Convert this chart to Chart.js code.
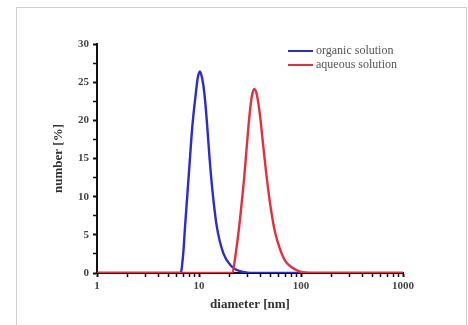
<!DOCTYPE html>
<html>
<head>
<meta charset="utf-8">
<script src="https://cdn.jsdelivr.net/npm/chart.js@4"></script>
<style>
    html, body { margin: 0; padding: 0; background: #fff; overflow: hidden; }
    #frame { position: absolute; left: 16px; top: 7px; width: 449px; height: 340px; border: 1px solid #cfcfcf; }
    #wrap { position: absolute; left: 0; top: 0; width: 468px; height: 325px; }
</style>
</head>
<body>
<div id="frame"></div>
<div id="wrap"><canvas id="chart1" width="468" height="325"></canvas></div>
<script>
// diameter in nm, number in %
const organicDiameter = [1, 6.6, 7.0, 7.3, 7.7, 8.1, 8.6, 9.3, 9.7, 10.2, 10.7, 11.3, 12.0, 12.7, 13.5, 14.9, 17.3, 20.9, 25, 30, 40, 1000];
const organicNumber   = [0, 0,   2.5, 6.1, 10.4, 14.5, 19.2, 23.5, 25.5, 26.4, 25.6, 23.5, 19.5, 15.0, 11.0, 6.2, 2.6, 0.85, 0.25, 0.05, 0, 0];

const aqueousDiameter = [1, 21, 23.4, 25.6, 27.6, 29.4, 31.4, 33, 34.8, 37, 39.4, 42.7, 46.4, 51.5, 56, 62, 70, 81, 95, 110, 130, 1000];
const aqueousNumber   = [0, 0, 3.45, 7.8, 12.2, 16.6, 20.9, 23.2, 24.1, 23.3, 20.9, 16.6, 12.2, 7.8, 5.2, 3.2, 1.6, 0.75, 0.25, 0.07, 0, 0];

const xTicks = [1, 2, 3, 4, 5, 6, 7, 8, 9, 10, 20, 30, 40, 50, 60, 70, 80, 90, 100, 200, 300, 400, 500, 600, 700, 800, 900, 1000];
const xLabels = [1, 10, 100, 1000];
const seriesNames = ['organic solution', 'aqueous solution'];

function toPoints(xs, ys) {
    return xs.map((x, i) => ({ x: x, y: ys[i] }));
}

// legend drawn inside the plot, top right
const innerLegend = {
    id: 'innerLegend',
    afterDraw(chart) {
        const ctx = chart.ctx;
        ctx.save();
        ctx.font = '12px "Liberation Serif"';
        ctx.textBaseline = 'middle';
        chart.data.datasets.forEach((ds, i) => {
            const y = 51 + i * 14;
            ctx.strokeStyle = ds.borderColor;
            ctx.lineWidth = 2;
            ctx.beginPath();
            ctx.moveTo(288, y);
            ctx.lineTo(313, y);
            ctx.stroke();
            ctx.fillStyle = '#555';
            ctx.fillText(ds.label, 316, y);
        });
        ctx.restore();
    }
};

const ctx1 = document.getElementById('chart1').getContext('2d');
const chart1 = new Chart(ctx1, {
    type: 'line',
    data: {
        datasets: [{
            label: seriesNames[0],
            data: toPoints(organicDiameter, organicNumber),
            borderColor: '#2b2bcf',
            borderWidth: 2.4,
            pointRadius: 0,
            cubicInterpolationMode: 'monotone',
            fill: false,
            order: 1
        }, {
            label: seriesNames[1],
            data: toPoints(aqueousDiameter, aqueousNumber),
            borderColor: '#e3303a',
            borderWidth: 2.4,
            pointRadius: 0,
            cubicInterpolationMode: 'monotone',
            fill: false,
            order: 0
        }]
    },
    options: {
        responsive: false,
        animation: false,
        layout: { padding: { left: 0, top: 44, right: 65, bottom: 0 } },
        plugins: {
            legend: { display: false },
            tooltip: { enabled: false }
        },
        scales: {
            x: {
                type: 'logarithmic',
                min: 1,
                max: 1000,
                afterBuildTicks: (scale) => {
                    scale.ticks = xTicks.map(v => ({ value: v, major: xLabels.includes(v) }));
                },
                afterFit: (scale) => { scale.height = 52; },
                border: { color: '#111', width: 2 },
                grid: {
                    drawOnChartArea: false,
                    tickLength: 4,
                    tickColor: '#111',
                    tickWidth: (c) => (c.tick && xLabels.includes(c.tick.value)) ? 2 : 1.5
                },
                ticks: {
                    autoSkip: false,
                    maxRotation: 0,
                    padding: 3,
                    color: '#444',
                    font: { family: '"Liberation Serif"', size: 11, weight: 'bold' },
                    callback: (v) => xLabels.includes(v) ? String(v) : ''
                },
                title: {
                    display: true,
                    text: 'diameter [nm]',
                    color: '#333',
                    font: { family: '"Liberation Serif"', size: 13, weight: 'bold' },
                    padding: { top: 0, bottom: 13 }
                }
            },
            y: {
                min: 0,
                max: 30,
                afterFit: (scale) => { scale.width = 97; },
                border: { color: '#111', width: 2 },
                grid: {
                    drawOnChartArea: false,
                    tickLength: 4,
                    tickColor: '#111',
                    tickWidth: (c) => (c.tick && c.tick.value % 5 === 0) ? 2 : 1.5
                },
                ticks: {
                    stepSize: 2.5,
                    padding: 4,
                    color: '#444',
                    font: { family: '"Liberation Serif"', size: 11, weight: 'bold' },
                    callback: (v) => v % 5 === 0 ? String(v) : ''
                },
                title: {
                    display: true,
                    text: 'number [%]',
                    color: '#333',
                    font: { family: '"Liberation Serif"', size: 13, weight: 'bold' },
                    padding: { top: 51, bottom: 0 }
                }
            }
        }
    },
    plugins: [innerLegend]
});
</script>
</body>
</html>
